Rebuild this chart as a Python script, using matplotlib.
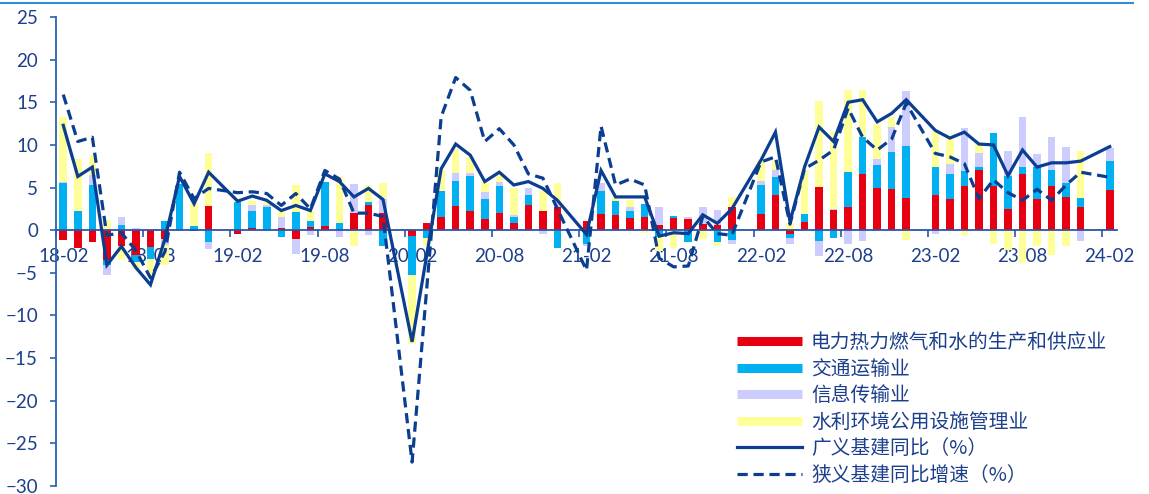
import matplotlib
matplotlib.use("Agg")
import matplotlib.pyplot as plt
from matplotlib.lines import Line2D
import numpy as np
import pandas as pd

nan = np.nan

# monthly categories 2018-02 .. 2024-02 (January slots left empty)
months = pd.period_range("2018-02", "2024-02", freq="M").strftime("%y-%m").tolist()
xlabels = ["18-02", "18-08", "19-02", "19-08", "20-02", "20-08", "21-02",
           "21-08", "22-02", "22-08", "23-02", "23-08", "24-02"]

# 电力热力燃气和水的生产和供应业
power = [-1.2, -2.1, -1.4, -3.5, -1.8, -2.9, -2.0, -1.0, 0.0, -0.1, 2.8, nan,
         -0.4, 0.2, 0.0, 0.2, -1.0, 0.4, 0.5, 0.0, 2.0, 2.9, 2.0, nan,
         -0.7, 0.8, 1.5, 2.8, 2.2, 1.3, 2.0, 0.9, 2.9, 2.3, 2.7, nan,
         1.1, 1.9, 1.8, 1.4, 1.6, 0.6, 1.4, 1.3, 0.7, 0.6, 2.7, nan,
         1.9, 4.1, -0.4, 1.0, 5.1, 2.4, 2.7, 6.6, 5.0, 4.8, 3.8, nan,
         4.1, 3.7, 5.2, 7.0, 5.2, 2.5, 6.6, 3.6, 5.2, 3.9, 2.7, nan,
         4.7]
# 交通运输业
transport = [5.5, 2.3, 5.3, -0.6, 0.6, -0.8, -1.4, 1.1, 5.4, 0.5, -1.4, nan,
             3.3, 2.0, 2.7, -0.8, 2.1, 0.7, 5.2, 0.9, 0.0, 0.4, -1.9, nan,
             -4.6, -0.9, 3.1, 3.0, 4.1, 2.3, 3.2, 0.7, 1.2, 0.0, -2.1, nan,
             -1.6, 2.7, 1.6, 0.9, 1.5, -0.8, 0.3, -1.4, 0.0, -1.4, -1.1, nan,
             3.4, 2.1, -0.5, 0.9, -1.3, -0.9, 4.1, 4.3, 2.7, 4.4, 6.1, nan,
             3.3, 2.9, 1.7, 0.4, 6.2, 3.9, 0.8, 3.8, 1.8, 1.6, 1.1, nan,
             3.4]
# 信息传输业
info = [0.2, 0.0, 1.2, -1.1, 1.0, 0.3, 0.0, -0.7, 0.0, 0.0, -0.8, nan,
        0.0, 0.7, 0.3, 1.4, -1.8, -0.6, 0.0, -0.8, 3.4, -0.6, 1.7, nan,
        0.0, 0.0, 0.0, 0.9, 0.4, 0.9, 0.5, 0.2, 0.9, -0.4, 0.6, nan,
        -0.3, 0.9, 0.0, 0.4, 0.0, 2.1, 0.0, 0.3, 2.0, 1.8, -0.5, nan,
        0.5, 0.8, -0.7, 0.0, -1.7, 0.1, -1.6, -1.3, 0.6, 2.9, 6.4, nan,
        -0.4, 1.2, 5.1, 1.6, 0.0, 2.9, 5.9, 1.5, 3.9, 4.2, -1.3, nan,
        1.5]
# 水利环境公用设施管理业
water = [7.6, 6.1, 2.3, 1.2, -1.7, -0.8, -2.0, -2.4, 0.0, 2.7, 6.2, nan,
         0.0, 0.5, 0.3, 0.5, 3.2, 1.1, 0.0, 5.4, -1.8, 2.0, 1.8, nan,
         -8.0, -0.8, 2.4, 2.8, 1.9, 1.1, 0.8, 3.2, 0.0, 2.3, 2.2, nan,
         0.0, 0.0, 0.6, 0.8, -0.3, -1.6, -2.1, 0.0, -1.0, -0.4, 1.2, nan,
         2.4, 1.2, 0.8, 5.2, 10.0, 9.0, 9.6, 5.5, 4.2, 1.2, -1.2, nan,
         4.1, 2.9, -0.6, 1.1, -1.6, -2.3, -3.9, -1.8, -2.9, -1.8, 5.5, nan,
         0.0]
# 广义基建同比（%）
broad = [12.3, 6.3, 7.4, -4.1, -1.9, -4.4, -6.4, -1.0, 6.3, 3.1, 6.8, nan,
         3.4, 4.0, 3.5, 2.3, 2.9, 2.3, 6.6, 5.7, 3.9, 4.9, 3.6, nan,
         -13.1, -3.0, 7.2, 10.1, 8.8, 5.7, 6.8, 5.3, 5.7, 4.9, 3.5, nan,
         -0.5, 7.0, 3.9, 3.9, 3.9, -0.7, -0.3, -0.4, 1.8, 0.8, 2.5, nan,
         8.2, 11.5, 1.0, 7.4, 12.1, 10.4, 15.0, 15.3, 12.7, 13.7, 15.3, nan,
         11.7, 10.8, 11.5, 10.1, 10.0, 6.4, 9.4, 7.4, 7.9, 7.9, 8.1, nan,
         9.8]
# 狭义基建同比增速（%）
narrow = [15.9, 10.4, 10.9, -0.6, -0.3, -2.4, -5.6, -2.5, 6.8, 3.7, 4.9, nan,
          4.4, 4.5, 4.3, 2.9, 4.3, 2.5, 7.0, 6.0, 2.0, 2.0, 1.6, nan,
          -27.2, -7.0, 13.3, 17.9, 16.4, 10.4, 11.9, 10.0, 6.6, 6.1, 2.5, nan,
          -4.7, 12.2, 5.3, 6.0, 5.3, -3.3, -4.3, -4.2, 1.6, -0.4, -0.6, nan,
          8.0, 8.6, 0.7, 7.2, 8.2, 9.4, 14.3, 10.9, 9.4, 10.7, 14.9, nan,
          9.0, 8.6, 7.8, 3.7, 5.9, 4.4, 3.5, 4.8, 3.5, 5.3, 6.8, nan,
          6.2]

bar_names = ["电力热力燃气和水的生产和供应业", "交通运输业", "信息传输业", "水利环境公用设施管理业"]
bar_colors = ["#E60012", "#00B0F0", "#CCCCFF", "#FFFF99"]
line_color = "#0B3D91"
text_color = "#1C3F8C"

plt.rcParams["font.family"] = ["Lato", "Noto Sans CJK SC", "DejaVu Sans"]

fig = plt.figure(figsize=(11.49, 4.94), dpi=100)
ax = fig.add_axes([56 / 1149, 8 / 494, (1117 - 56) / 1149, (477 - 8) / 494])

x = np.arange(len(months))
pos_bottom = np.zeros(len(x))
neg_bottom = np.zeros(len(x))
for vals, color in zip([power, transport, info, water], bar_colors):
    v = np.nan_to_num(np.array(vals, dtype=float))
    bottom = np.where(v >= 0, pos_bottom, neg_bottom)
    ax.bar(x, v, bottom=bottom, width=0.52, color=color, linewidth=0, zorder=2)
    pos_bottom += np.where(v >= 0, v, 0)
    neg_bottom += np.where(v < 0, v, 0)

for vals, ls in [(broad, "-"), (narrow, (0, (3.2, 1.8)))]:
    s = pd.Series(vals, index=x).dropna()
    ax.plot(s.index, s.values, color=line_color, lw=2.3, ls=ls, zorder=3,
            solid_joinstyle="miter", dash_capstyle="butt")

ax.set_xlim(-0.5, len(x) - 0.5)
ax.set_ylim(-30, 25)
ax.set_yticks(range(-30, 26, 5))

label_pos = [months.index(m) for m in xlabels]
ax.set_xticks(label_pos)
ax.set_xticklabels(xlabels)
ax.set_xticks(np.array(label_pos) - 0.5, minor=True)

for side in ["top", "right"]:
    ax.spines[side].set_visible(False)
ax.spines["bottom"].set_position(("data", 0))
ax.spines["bottom"].set_color("#2B55A8")
ax.spines["bottom"].set_linewidth(1.3)
ax.spines["bottom"].set_zorder(2.5)
ax.spines["left"].set_color("#2B62B0")
ax.spines["left"].set_linewidth(1.3)

ax.tick_params(axis="x", which="major", length=0, pad=13, labelsize=13.5, labelcolor=text_color)
ax.tick_params(axis="x", which="minor", length=5, width=1.2, color="#2B55A8", direction="out")
ax.tick_params(axis="y", length=4, width=1.2, color="#2B62B0", pad=9, labelsize=13.5,
               labelcolor=text_color)

handles = [Line2D([], [], color=c, lw=6.5, solid_capstyle="butt") for c in bar_colors]
handles += [Line2D([], [], color=line_color, lw=2.3),
            Line2D([], [], color=line_color, lw=2.3, ls=(0, (3.2, 1.8)))]
labels = bar_names + ["广义基建同比（%）", "狭义基建同比增速（%）"]
leg = ax.legend(handles, labels, loc="upper left", bbox_to_anchor=(737 / 1149, 1 - 332 / 494),
                bbox_transform=fig.transFigure, frameon=False, borderpad=0, borderaxespad=0,
                handlelength=3.3, handletextpad=0.45, labelspacing=0.28,
                prop={"family": ["Noto Sans CJK SC"], "size": 14.2})
for t in leg.get_texts():
    t.set_color(text_color)

fig.add_artist(Line2D([0, 1133 / 1149], [1 - 3 / 494, 1 - 3 / 494], transform=fig.transFigure,
                      color="#2F8FD8", lw=1.5))

fig.savefig("out.png", dpi=100)
